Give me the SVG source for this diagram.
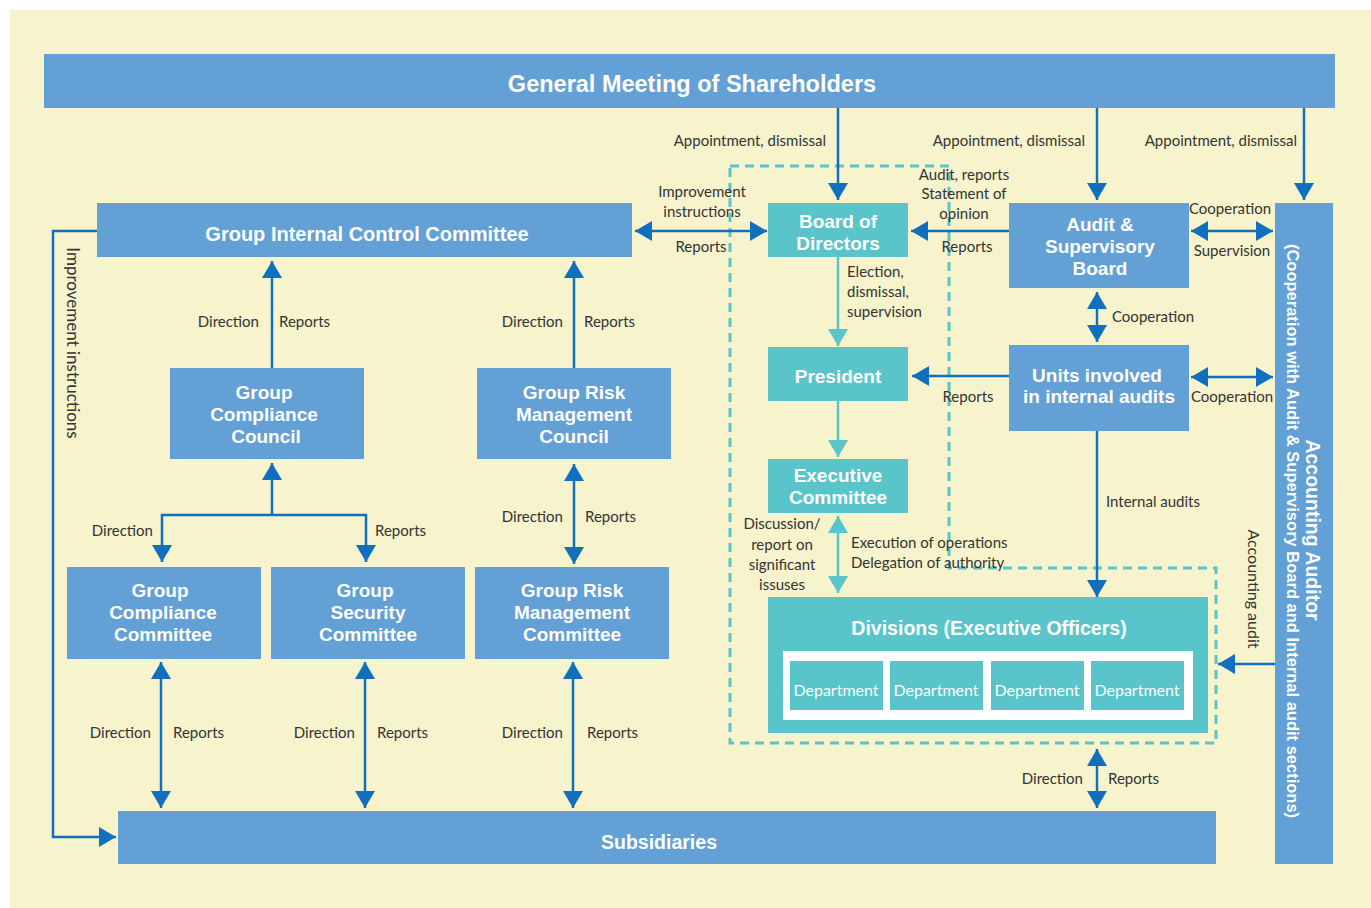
<svg xmlns="http://www.w3.org/2000/svg" width="1371" height="908" viewBox="0 0 1371 908">
<defs>
<marker id="ab" markerUnits="userSpaceOnUse" markerWidth="18" markerHeight="20" refX="17" refY="10" orient="auto-start-reverse" viewBox="0 0 18 20"><path d="M0,0 L17,10 L0,20 z" fill="#1170bd"/></marker>
<marker id="at" markerUnits="userSpaceOnUse" markerWidth="18" markerHeight="20" refX="17" refY="10" orient="auto-start-reverse" viewBox="0 0 18 20"><path d="M0,0 L17,10 L0,20 z" fill="#59c4c9"/></marker>
<style>
.bg{fill:#f7f3cd}
.blue{fill:#63a0d5}
.teal{fill:#59c4c9}
.t{font-family:"Liberation Sans",Arial,sans-serif;font-weight:bold;fill:#fff;text-anchor:middle}
.l{font-family:Lato,Roboto,sans-serif;font-size:15px;fill:#333}
.m{text-anchor:middle}
.e{text-anchor:end}
.c{fill:none;stroke:#1170bd;stroke-width:2.5}
.ct{fill:none;stroke:#59c4c9;stroke-width:2.5}
.d{font-family:Lato,Roboto,sans-serif;font-size:16px;fill:#fff;text-anchor:middle}
</style>
</defs>
<rect x="0" y="0" width="1371" height="908" fill="#fff"/>
<rect class="bg" x="10" y="10" width="1361" height="898"/>

<path d="M730,166 L949,166 L949,568 L1216,568 L1216,743 L730,743 Z" fill="none" stroke="#59c4c9" stroke-width="3" stroke-dasharray="9,6"/>

<g id="gm"><rect class="blue" x="44" y="54" width="1291" height="54"/><text class="t" x="692" y="92" font-size="23.5">General Meeting of Shareholders</text></g>
<g id="gicc"><rect class="blue" x="97" y="203" width="535" height="54"/><text class="t" x="367" y="241" font-size="20">Group Internal Control Committee</text></g>
<g id="board"><rect class="teal" x="768" y="203" width="140" height="54"/><text class="t" font-size="19"><tspan x="838" y="228">Board of</tspan><tspan x="838" y="250">Directors</tspan></text></g>
<g id="asb"><rect class="blue" x="1009" y="203" width="180" height="85"/><text class="t" font-size="19"><tspan x="1100" y="231">Audit &amp;</tspan><tspan x="1100" y="253">Supervisory</tspan><tspan x="1100" y="275">Board</tspan></text></g>
<g id="auditor"><rect class="blue" x="1275" y="203" width="58" height="661"/><text class="t" transform="translate(1306,530) rotate(90)" font-size="19.5">Accounting Auditor</text><text class="t" transform="translate(1287,531) rotate(90)" font-size="16.5">(Cooperation with Audit &amp; Supervisory Board and Internal audit sections)</text></g>
<g id="president"><rect class="teal" x="768" y="347" width="140" height="54"/><text class="t" x="838" y="383" font-size="19">President</text></g>
<g id="units"><rect class="blue" x="1009" y="345" width="180" height="86"/><text class="t" font-size="19"><tspan x="1097" y="382">Units involved</tspan><tspan x="1099" y="403">in internal audits</tspan></text></g>
<g id="exec"><rect class="teal" x="768" y="459" width="140" height="54"/><text class="t" font-size="19"><tspan x="838" y="482">Executive</tspan><tspan x="838" y="504">Committee</tspan></text></g>
<g id="divisions"><rect class="teal" x="768" y="597" width="440" height="136"/><text class="t" x="989" y="635" font-size="19.5">Divisions (Executive Officers)</text><rect x="783" y="651" width="410" height="69" fill="#fff"/>
<rect class="teal" x="790" y="661" width="93" height="49"/><rect class="teal" x="890" y="661" width="93" height="49"/><rect class="teal" x="991" y="661" width="93" height="49"/><rect class="teal" x="1091" y="661" width="93" height="49"/>
<text class="d" x="836" y="696">Department</text><text class="d" x="936" y="696">Department</text><text class="d" x="1037" y="696">Department</text><text class="d" x="1137" y="696">Department</text></g>
<g id="gccouncil"><rect class="blue" x="170" y="368" width="194" height="91"/><text class="t" font-size="19"><tspan x="264" y="399">Group</tspan><tspan x="264" y="421">Compliance</tspan><tspan x="266" y="443">Council</tspan></text></g>
<g id="grmcouncil"><rect class="blue" x="477" y="368" width="194" height="91"/><text class="t" font-size="19"><tspan x="574" y="399">Group Risk</tspan><tspan x="574" y="421">Management</tspan><tspan x="574" y="443">Council</tspan></text></g>
<g id="gccommittee"><rect class="blue" x="67" y="567" width="194" height="92"/><text class="t" font-size="19"><tspan x="160" y="597">Group</tspan><tspan x="163" y="619">Compliance</tspan><tspan x="163" y="641">Committee</tspan></text></g>
<g id="gsc"><rect class="blue" x="271" y="567" width="194" height="92"/><text class="t" font-size="19"><tspan x="365" y="597">Group</tspan><tspan x="368" y="619">Security</tspan><tspan x="368" y="641">Committee</tspan></text></g>
<g id="grmcommittee"><rect class="blue" x="475" y="567" width="194" height="92"/><text class="t" font-size="19"><tspan x="572" y="597">Group Risk</tspan><tspan x="572" y="619">Management</tspan><tspan x="572" y="641">Committee</tspan></text></g>
<g id="subsidiaries"><rect class="blue" x="118" y="811" width="1098" height="53"/><text class="t" x="659" y="849" font-size="19.5">Subsidiaries</text></g>

<g id="connectors">
<line class="c" x1="838" y1="108" x2="838" y2="200" marker-end="url(#ab)"/>
<line class="c" x1="1097" y1="108" x2="1097" y2="200" marker-end="url(#ab)"/>
<line class="c" x1="1304" y1="108" x2="1304" y2="200" marker-end="url(#ab)"/>
<line class="c" x1="635" y1="231" x2="767" y2="231" marker-start="url(#ab)" marker-end="url(#ab)"/>
<line class="c" x1="1009" y1="231" x2="911" y2="231" marker-end="url(#ab)"/>
<line class="c" x1="1191" y1="231" x2="1273" y2="231" marker-start="url(#ab)" marker-end="url(#ab)"/>
<line class="c" x1="1097" y1="292" x2="1097" y2="342" marker-start="url(#ab)" marker-end="url(#ab)"/>
<line class="c" x1="1191" y1="377" x2="1273" y2="377" marker-start="url(#ab)" marker-end="url(#ab)"/>
<line class="c" x1="1009" y1="376" x2="912" y2="376" marker-end="url(#ab)"/>
<line class="c" x1="1097" y1="431" x2="1097" y2="597" marker-end="url(#ab)"/>
<line class="ct" x1="838" y1="257" x2="838" y2="346" marker-end="url(#at)"/>
<line class="ct" x1="838" y1="401" x2="838" y2="457" marker-end="url(#at)"/>
<line class="ct" x1="838" y1="516" x2="838" y2="593" marker-start="url(#at)" marker-end="url(#at)"/>
<line class="c" x1="1275" y1="664" x2="1218" y2="664" marker-end="url(#ab)"/>
<line class="c" x1="1097" y1="749" x2="1097" y2="808" marker-start="url(#ab)" marker-end="url(#ab)"/>
<line class="c" x1="272" y1="368" x2="272" y2="261" marker-end="url(#ab)"/>
<line class="c" x1="574" y1="368" x2="574" y2="261" marker-end="url(#ab)"/>
<line class="c" x1="574" y1="464" x2="574" y2="564" marker-start="url(#ab)" marker-end="url(#ab)"/>
<line class="c" x1="272" y1="516" x2="272" y2="463" marker-end="url(#ab)"/>
<path class="c" d="M162,562 L162,515 L366,515 L366,562" marker-start="url(#ab)" marker-end="url(#ab)"/>
<line class="c" x1="161" y1="662" x2="161" y2="808" marker-start="url(#ab)" marker-end="url(#ab)"/>
<line class="c" x1="365" y1="662" x2="365" y2="808" marker-start="url(#ab)" marker-end="url(#ab)"/>
<line class="c" x1="573" y1="662" x2="573" y2="808" marker-start="url(#ab)" marker-end="url(#ab)"/>
<path class="c" d="M97,231 L53,231 L53,837 L116,837" marker-end="url(#ab)"/>
</g>

<g id="labels">
<text class="l e" x="826" y="146">Appointment, dismissal</text>
<text class="l e" x="1085" y="146">Appointment, dismissal</text>
<text class="l e" x="1297" y="146">Appointment, dismissal</text>
<text class="l m" x="702" y="197">Improvement</text>
<text class="l m" x="702" y="217">instructions</text>
<text class="l m" x="701" y="252">Reports</text>
<text class="l m" x="964" y="180">Audit, reports</text>
<text class="l m" x="964" y="199">Statement of</text>
<text class="l m" x="964" y="219">opinion</text>
<text class="l m" x="967" y="252">Reports</text>
<text class="l m" x="1230" y="214">Cooperation</text>
<text class="l m" x="1232" y="256">Supervision</text>
<text class="l" x="1112" y="322">Cooperation</text>
<text class="l m" x="1232" y="402">Cooperation</text>
<text class="l m" x="968" y="402">Reports</text>
<text class="l" x="847" y="277">Election,</text>
<text class="l" x="847" y="297">dismissal,</text>
<text class="l" x="847" y="317">supervision</text>
<text class="l m" x="782" y="529">Discussion/</text>
<text class="l m" x="782" y="550">report on</text>
<text class="l m" x="782" y="570">significant</text>
<text class="l m" x="782" y="590">issuses</text>
<text class="l" x="851" y="548">Execution of operations</text>
<text class="l" x="851" y="568">Delegation of authority</text>
<text class="l" x="1106" y="507">Internal audits</text>
<text class="l e" x="1083" y="784">Direction</text>
<text class="l" x="1108" y="784">Reports</text>
<text class="l m" transform="translate(1248,589) rotate(90)" style="font-size:16px">Accounting audit</text>
<text class="l m" transform="translate(67,343) rotate(90)" style="font-size:17px">Improvement instructions</text>
<text class="l e" x="259" y="327">Direction</text>
<text class="l" x="279" y="327">Reports</text>
<text class="l e" x="563" y="327">Direction</text>
<text class="l" x="584" y="327">Reports</text>
<text class="l e" x="563" y="522">Direction</text>
<text class="l" x="585" y="522">Reports</text>
<text class="l e" x="153" y="536">Direction</text>
<text class="l" x="375" y="536">Reports</text>
<text class="l e" x="151" y="738">Direction</text>
<text class="l" x="173" y="738">Reports</text>
<text class="l e" x="355" y="738">Direction</text>
<text class="l" x="377" y="738">Reports</text>
<text class="l e" x="563" y="738">Direction</text>
<text class="l" x="587" y="738">Reports</text>
</g>
</svg>
